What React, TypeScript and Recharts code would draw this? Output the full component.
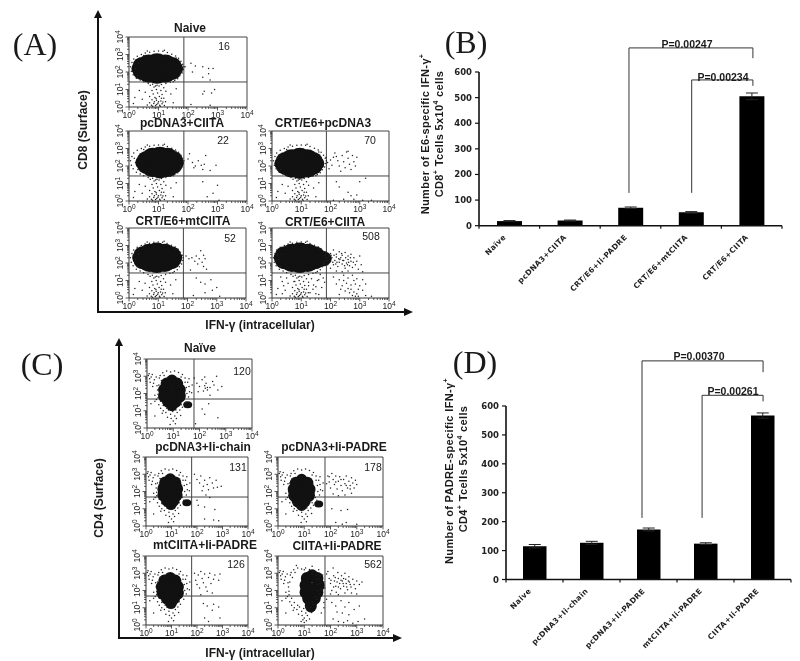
import React from "react";
import { ScatterChart, Scatter, BarChart, Bar, ErrorBar, XAxis, YAxis, ReferenceLine } from "recharts";

type P = number[];
const SERIF = "'Liberation Serif', serif";
const SANS = "'Liberation Sans', sans-serif";
const DEJA = "'DejaVu Sans', sans-serif";

// flow-cytometry axes (log10 decades)
const decadeTicks = [0,0.3,0.48,0.6,0.7,0.78,0.85,0.9,0.95,1,1.3,1.48,1.6,1.7,1.78,1.85,1.9,1.95,2,2.3,2.48,2.6,2.7,2.78,2.85,2.9,2.95,3,3.3,3.48,3.6,3.7,3.78,3.85,3.9,3.95,4];

// Panel A: grainy rim of the main population and the low CD8 column
const aRim: P[] = [[0.05,2.3],[0.08,2.05],[0.1,2.55],[0.14,1.85],[0.16,2.75],[0.22,2.2],[0.25,1.65],[0.28,2.9],[0.33,2.5],[0.38,1.55],[0.42,3.0],[0.5,1.45],[0.55,3.08],[0.65,1.35],[0.7,3.13],[0.8,1.3],[0.85,3.18],[0.95,1.25],[1.0,3.2],[1.1,1.28],[1.15,3.18],[1.25,1.35],[1.3,3.12],[1.4,1.42],[1.45,3.02],[1.55,1.52],[1.58,2.92],[1.65,1.62],[1.68,2.78],[1.72,1.78],[1.76,2.62],[1.8,1.95],[1.82,2.45],[1.84,2.15],[1.86,2.3],[0.18,2.45],[0.3,1.8],[0.5,2.95],[1.6,2.8],[1.75,2.0],[0.62,3.2],[1.2,3.25],[0.9,1.2],[1.5,1.45]];
const aColumn: P[] = [[0.72,1.25],[0.85,1.15],[1.02,1.2],[1.18,1.1],[0.78,0.95],[0.93,1.0],[1.08,0.95],[1.25,0.9],[0.82,0.75],[0.97,0.8],[1.12,0.72],[0.7,0.6],[0.88,0.55],[1.03,0.6],[1.18,0.5],[0.78,0.42],[0.93,0.38],[1.08,0.35],[1.24,0.3],[0.7,0.25],[0.84,0.2],[0.98,0.22],[1.12,0.18],[0.76,0.1],[0.9,0.08],[1.04,0.1],[1.2,0.08],[0.62,0.12],[0.35,0.95],[0.2,0.55],[0.45,0.45],[0.15,0.2],[0.55,0.85],[1.42,0.75],[1.5,0.25],[1.6,1.05],[0.86,0.3],[0.94,0.14],[1.0,0.3],[1.06,0.04],[0.8,0.04],[1.15,0.28],[0.92,0.48],[1.1,0.5]];
const aNaiveCore: P[] = [[0.42,2.2],[0.47,2.4],[0.47,2.0],[0.67,2.55],[0.67,1.85],[0.95,2.62],[0.95,1.78],[1.23,2.55],[1.23,1.85],[1.43,2.4],[1.43,2.0],[1.5,2.2],[0.95,2.2]];
const aNaiveDots: P[] = [[1.9,2.3],[2.1,2.5],[2.25,2.35],[2.5,2.3],[2.7,2.2],[2.85,2.2],[2.7,1.9],[2.75,1.55],[2.5,1.7],[2.15,2.0],[2.55,0.9],[2.8,0.8],[2.5,0.75],[2.9,1.0],[2.75,0.1],[2.1,0.15]];
const aPcCore: P[] = [[0.55,2.2],[0.62,2.4],[0.62,2.0],[0.8,2.58],[0.8,1.83],[1.05,2.65],[1.05,1.75],[1.3,2.58],[1.3,1.83],[1.47,2.4],[1.47,2.0],[1.52,2.2],[1.05,2.2]];
const aPcDots: P[] = [[2.0,2.4],[2.15,2.2],[2.25,2.0],[2.35,2.3],[2.45,2.05],[2.5,1.8],[2.55,2.1],[2.75,1.75],[2.95,2.05],[2.05,2.7],[2.6,2.6],[2.2,1.9],[2.5,1.1],[3.0,0.9],[2.85,0.45],[2.65,0.25],[3.05,0.05]];
const aCrtPcCore: P[] = [[0.42,2.15],[0.48,2.35],[0.48,1.95],[0.68,2.5],[0.68,1.8],[0.95,2.58],[0.95,1.72],[1.2,2.5],[1.2,1.8],[1.38,2.35],[1.38,1.95],[1.45,2.15],[0.95,2.15]];
const aCrtPcDots: P[] = [[1.85,2.5],[1.9,2.2],[1.95,1.85],[2.05,2.05],[2.1,2.5],[2.15,2.75],[2.25,2.3],[2.3,2.0],[2.35,1.7],[2.4,2.6],[2.45,2.25],[2.55,2.8],[2.6,2.45],[2.65,2.1],[2.7,1.8],[2.75,2.6],[2.8,2.25],[2.85,2.0],[2.9,2.5],[2.5,1.9],[2.2,2.55],[2.0,2.35],[2.6,2.85],[2.2,1.1],[2.3,0.8],[2.6,0.5],[2.7,0.3],[2.9,0.35],[3.0,1.1],[3.2,1.3],[2.45,0.1],[2.8,0.1],[3.1,0.05],[3.4,0.05],[2.1,0.05]];
const aMtCore: P[] = [[0.45,2.3],[0.5,2.5],[0.5,2.1],[0.7,2.65],[0.7,1.95],[0.95,2.72],[0.95,1.88],[1.22,2.65],[1.22,1.95],[1.42,2.5],[1.42,2.1],[1.48,2.3],[0.95,2.3]];
const aMtDots: P[] = [[1.95,2.4],[2.05,2.25],[2.15,2.3],[2.25,2.1],[2.3,2.4],[2.4,2.25],[2.45,2.7],[2.5,2.05],[2.55,2.45],[2.55,1.8],[2.6,2.25],[2.65,1.65],[2.35,1.95],[2.1,1.6],[2.3,1.15],[2.45,0.9],[2.6,0.8],[2.8,1.05],[3.0,0.6],[2.85,0.45],[2.6,0.3],[2.2,0.15],[3.1,0.1]];
const aCiCore: P[] = [[0.4,2.3],[0.45,2.5],[0.45,2.1],[0.68,2.65],[0.68,1.95],[0.95,2.72],[0.95,1.88],[1.22,2.65],[1.22,1.95],[1.45,2.5],[1.45,2.1],[1.55,2.3],[0.95,2.3],[1.7,2.25]];
const aCiDots: P[] = [[1.85,2.6],[2.0,2.55],[2.1,2.75],[2.2,2.5],[2.3,2.65],[2.4,2.45],[2.5,2.6],[2.6,2.4],[2.7,2.5],[2.8,2.3],[2.9,2.1],[3.0,2.4],[3.05,1.9],[2.0,2.1],[2.05,2.3],[2.1,1.9],[2.15,2.15],[2.2,2.35],[2.25,1.8],[2.3,2.05],[2.35,2.3],[2.4,1.95],[2.45,2.15],[2.5,1.7],[2.55,2.0],[2.6,2.2],[2.65,1.85],[2.7,2.1],[2.75,1.75],[2.85,1.9],[2.95,1.65],[2.0,1.7],[2.2,1.55],[2.4,1.5],[2.6,1.55],[3.1,1.5],[1.9,1.9],[1.95,2.4],[2.12,2.45],[2.32,2.2],[2.52,2.3],[2.22,2.05],[2.42,2.15],[2.62,2.05],[1.92,2.15],[2.02,2.45],[2.08,2.05],[2.18,1.95],[2.28,2.25],[2.38,2.55],[2.48,1.85],[2.58,1.9],[2.68,2.3],[2.78,2.05],[0.5,1.15],[0.3,1.2],[0.75,0.95],[1.35,1.1],[1.55,1.0],[1.75,1.15],[0.4,0.7],[1.25,0.7],[1.5,0.65],[1.7,0.6],[0.35,0.25],[1.3,0.3],[1.6,0.2],[1.65,1.35],[1.8,0.9],[1.4,0.5],[2.1,1.2],[2.3,1.05],[2.45,1.3],[2.6,1.15],[2.75,1.3],[2.9,1.1],[3.1,1.05],[3.2,0.8],[2.2,0.8],[2.4,0.7],[2.55,0.85],[2.7,0.75],[2.85,0.8],[3.0,0.7],[3.1,0.45],[2.5,0.4],[2.65,0.3],[2.75,0.15],[2.8,0.35],[2.85,0.1],[2.9,0.25],[2.95,0.1],[2.3,0.2],[3.2,0.15],[3.4,0.1],[2.6,0.55],[2.95,0.5],[2.45,1.0],[2.8,1.0],[2.35,0.5],[2.7,0.5]];

// Panel C: grainy surroundings of the main population
const cRim: P[] = [[0.05,3.05],[0.1,2.85],[0.2,3.1],[0.12,2.65],[0.25,2.6],[0.35,2.95],[0.45,2.5],[0.5,3.05],[0.4,2.2],[0.55,2.75],[0.3,1.9],[0.42,1.75],[0.3,1.55],[0.45,1.35],[0.52,1.15],[0.62,1.0],[0.72,0.9],[0.82,1.05],[0.9,0.8],[0.98,0.95],[1.06,0.7],[1.15,0.9],[1.25,1.05],[1.35,1.2],[0.92,0.55],[1.0,0.4],[1.08,0.25],[0.88,0.2],[0.6,3.2],[0.75,3.3],[0.9,3.25],[1.05,3.3],[1.2,3.22],[1.35,3.1],[1.45,2.9],[1.55,2.65],[1.6,2.4],[1.62,2.1],[1.58,1.8],[1.48,1.5],[0.47,2.9],[0.38,2.45],[0.42,1.95],[0.52,1.55],[0.62,1.3],[0.75,1.15],[1.1,1.05],[1.3,1.35],[1.42,1.65],[1.52,2.0],[1.5,2.35],[1.45,2.65],[1.3,2.95],[0.65,3.05],[0.3,0.7],[0.15,1.4],[0.08,3.15],[0.16,2.95],[0.28,2.8],[0.22,2.4],[0.36,1.65],[0.58,0.85],[0.78,0.62],[1.12,0.55],[1.28,0.72],[1.6,2.85],[1.72,2.5],[1.7,2.05]];
const cNaiveCore: P[] = [[0.95,2.72],[0.75,2.55],[1.15,2.55],[0.65,2.2],[1.25,2.2],[0.65,1.85],[1.25,1.85],[0.8,1.55],[1.1,1.55],[0.95,1.35],[0.95,2.0]];
const cNaiveLump: P[] = [[1.55,1.35]];
const cNaiveDots: P[] = [[1.8,2.9],[1.9,2.6],[2.0,2.4],[2.1,2.8],[2.15,2.15],[2.2,2.45],[2.25,2.6],[2.3,2.2],[2.4,2.35],[2.5,2.7],[2.55,2.5],[2.65,3.0],[2.7,2.2],[2.85,2.4],[2.2,2.95],[1.95,2.1],[2.4,1.9],[2.35,1.4],[2.1,1.1],[2.2,0.8],[2.7,0.6],[1.85,0.25],[2.3,2.35],[2.22,2.3]];
const cChainCore: P[] = [[0.95,2.68],[0.75,2.5],[1.15,2.5],[0.68,2.15],[1.22,2.15],[0.68,1.8],[1.2,1.8],[0.82,1.5],[1.08,1.5],[0.98,1.3],[0.95,2.0]];
const cChainLump: P[] = [[1.6,1.35]];
const cChainDots: P[] = [[1.9,3.0],[2.0,2.7],[2.1,2.5],[2.15,2.9],[2.25,2.3],[2.3,2.65],[2.4,2.4],[2.45,2.1],[2.5,2.8],[2.6,2.5],[2.65,2.2],[2.75,2.65],[2.8,2.25],[2.95,2.3],[2.2,2.05],[2.35,1.8],[2.5,1.65],[2.0,1.5],[2.05,1.2],[2.3,1.1],[2.7,0.95],[2.3,0.4],[2.65,0.35],[2.85,0.3]];
const cPadCore: P[] = [[0.9,2.65],[0.68,2.48],[1.12,2.48],[0.6,2.12],[1.2,2.12],[0.62,1.78],[1.18,1.78],[0.75,1.45],[1.02,1.45],[0.9,1.25],[0.9,2.0]];
const cPadLump: P[] = [[1.55,1.28]];
const cPadDots: P[] = [[1.9,2.9],[1.95,2.55],[2.0,2.2],[2.05,3.05],[2.1,2.7],[2.15,2.4],[2.2,2.9],[2.25,2.15],[2.3,2.6],[2.35,2.85],[2.4,2.35],[2.45,2.05],[2.5,2.7],[2.55,2.45],[2.6,2.9],[2.65,2.2],[2.7,2.6],[2.75,2.35],[2.8,2.8],[2.85,2.5],[2.9,2.2],[2.95,2.65],[3.0,2.4],[2.1,1.85],[2.3,1.75],[2.55,1.8],[2.8,1.9],[2.05,1.0],[2.4,0.9],[2.65,0.95],[2.2,0.2],[2.45,0.1],[2.6,0.2],[3.0,0.1],[1.85,2.45],[1.95,2.85],[2.2,2.55],[2.4,2.7],[2.6,2.35],[2.75,2.15]];
const cMtCore: P[] = [[0.95,2.7],[0.72,2.55],[1.15,2.55],[0.62,2.2],[1.25,2.2],[0.65,1.85],[1.25,1.85],[0.82,1.55],[1.1,1.55],[0.98,1.3],[0.95,2.0]];
const cMtDots: P[] = [[1.9,3.0],[1.95,2.6],[2.0,2.35],[2.05,2.9],[2.1,2.15],[2.15,3.1],[2.2,2.7],[2.25,2.45],[2.3,2.95],[2.35,2.2],[2.45,2.75],[2.5,3.0],[2.55,2.4],[2.65,2.65],[2.7,2.9],[2.85,2.6],[2.9,2.95],[2.4,1.95],[2.15,1.75],[2.6,1.85],[2.25,1.25],[2.4,1.1],[2.65,1.2],[2.85,1.05],[2.6,0.85],[2.3,0.4],[2.9,0.4],[2.45,0.2]];
const cCiCore: P[] = [[1.3,2.85],[1.1,2.7],[1.5,2.7],[1.05,2.3],[1.55,2.3],[1.05,1.9],[1.5,1.9],[1.15,1.55],[1.4,1.55],[1.25,1.3],[1.3,2.1],[1.25,1.1]];
const cCiDots: P[] = [[0.7,3.45],[1.0,3.2],[1.3,3.4],[1.55,3.2],[1.7,2.9],[1.75,2.5],[1.78,2.15],[1.9,3.1],[1.95,2.7],[2.0,2.4],[2.05,2.0],[2.1,3.3],[2.12,2.85],[2.15,2.55],[2.2,2.25],[2.22,1.9],[2.28,3.05],[2.3,2.7],[2.35,2.4],[2.38,2.1],[2.42,2.85],[2.45,2.55],[2.5,2.25],[2.55,3.0],[2.58,2.65],[2.6,2.4],[2.65,2.05],[2.7,2.8],[2.72,2.5],[2.78,2.2],[2.85,2.65],[2.9,2.35],[2.95,2.1],[3.0,2.55],[3.1,2.35],[3.2,2.5],[2.0,1.8],[2.3,1.75],[2.55,1.85],[2.8,1.85],[3.0,1.8],[2.05,1.3],[2.2,1.1],[2.4,1.4],[2.55,1.05],[2.7,1.3],[2.9,0.9],[3.1,1.1],[2.25,0.75],[2.45,0.7],[2.7,0.6],[2.1,0.35],[2.3,0.2],[2.5,0.15],[2.65,0.25],[2.85,0.1],[3.05,0.2],[3.3,0.35],[1.85,2.95],[2.02,2.6],[2.18,2.75],[2.25,2.5],[2.4,2.6],[2.5,2.7],[2.62,2.2],[2.75,2.35],[2.3,2.2],[2.48,2.4],[2.68,2.55],[2.12,2.2],[1.85,1.5],[1.75,1.3],[1.75,1.0],[1.65,0.7],[1.0,0.15],[1.2,0.35],[0.95,0.3]];

const panelNames = ["Naive","pcDNA3+CIITA","CRT/E6+pcDNA3","CRT/E6+mtCIITA","CRT/E6+CIITA"];
const panelCounts = ["16","22","70","52","508"];
const cNames = ["Naïve","pcDNA3+Ii-chain","pcDNA3+Ii-PADRE","mtCIITA+Ii-PADRE","CIITA+Ii-PADRE"];
const cCounts = ["120","131","178","126","562"];

// Panel B
const bCats = ["Naïve","pcDNA3+CIITA","CRT/E6+Ii-PADRE","CRT/E6+mtCIITA","CRT/E6+CIITA"];
const bVals = [18,20,70,52,505];
const bErrs = [2,2,3,3,13];
// Panel D
const dCats = ["Naive","pcDNA3+Ii-chain","pcDNA3+Ii-PADRE","mtCIITA+Ii-PADRE","CIITA+Ii-PADRE"];
const dVals = [115,127,173,124,567];
const dErrs = [6,5,5,3,9];
const barTicks = [0,100,200,300,400,500,600];
const barSlots = [0.5,1.5,2.5,3.5,4.5];

// bracket: [x from, x to, top, left foot, right foot]
const bBrackets = [[2.475,4.52,694,128,654],[3.51,4.52,569,128,546]];
const dBrackets = [[2.386,4.51,756,213,717],[3.44,4.51,637,213,616]];

const XTick = (props: any) => {
  const { x, y, payload } = props;
  const v = payload.value as number;
  const major = Number.isInteger(v);
  return (
    <g>
      <line x1={x} x2={x} y1={y} y2={y + (major ? 3.5 : 2)} stroke="#333" strokeWidth={0.8} />
      {major && (
        <text x={x} y={y + 11} textAnchor="middle" fontSize={8.5} fontFamily={SANS} fill="#222">
          10<tspan dy={-3.5} fontSize={6.5}>{v}</tspan>
        </text>
      )}
    </g>
  );
};

const YTick = (props: any) => {
  const { x, y, payload } = props;
  const v = payload.value as number;
  const major = Number.isInteger(v);
  return (
    <g>
      <line x1={x} x2={x - (major ? 3.5 : 2)} y1={y} y2={y} stroke="#333" strokeWidth={0.8} />
      {major && (
        <text transform={`translate(${x - 6},${y}) rotate(-90)`} textAnchor="middle" fontSize={8.5} fontFamily={SANS} fill="#222">
          10<tspan dy={-3.5} fontSize={6.5}>{v}</tspan>
        </text>
      )}
    </g>
  );
};

const PLOT_L = 24;
const PLOT_T = 14;
const noPoints: P[] = [];

const FlowPanel = ({ x, y, w, h, qx, qy, core, dots, rx, ry, lump = noPoints }: any) => {
  const toRows = (a: P[]) => a.map(([px, py]) => ({ px, py }));
  return (
    <div style={{ position: "absolute", left: x - PLOT_L, top: y - PLOT_T }}>
      <ScatterChart width={w + PLOT_L + 12} height={h + PLOT_T + 16} margin={{ left: 0, top: PLOT_T, right: 12, bottom: 0 }}>
        <XAxis dataKey="px" type="number" domain={[0, 4]} ticks={decadeTicks} interval={0} height={16} tick={<XTick />} tickLine={false} tickSize={0} tickMargin={0} axisLine={{ stroke: "#333" }} />
        <YAxis dataKey="py" type="number" domain={[0, 4]} ticks={decadeTicks} interval={0} width={PLOT_L} tick={<YTick />} tickLine={false} tickSize={0} tickMargin={0} axisLine={{ stroke: "#333" }} />
        <ReferenceLine x={qx} stroke="#444" />
        <ReferenceLine y={qy} stroke="#444" />
        <ReferenceLine x={4} stroke="#444" />
        <ReferenceLine y={4} stroke="#444" />
        <Scatter data={toRows(core)} isAnimationActive={false} shape={(p: any) => <ellipse cx={p.cx} cy={p.cy} rx={rx} ry={ry} fill="#111" />} />
        <Scatter data={toRows(lump)} isAnimationActive={false} shape={(p: any) => <ellipse cx={p.cx} cy={p.cy} rx={4.5} ry={3.5} fill="#111" />} />
        <Scatter data={toRows(dots)} isAnimationActive={false} shape={(p: any) => <circle cx={p.cx} cy={p.cy} r={0.75} fill="#222" />} />
      </ScatterChart>
    </div>
  );
};

const barTick = (band: number, last: number) => (props: any) => {
  const { x, y, payload, index } = props;
  return (
    <g>
      <line x1={x - band / 2} x2={x - band / 2} y1={y} y2={y + 3} stroke="#111" strokeWidth={1.2} />
      {index === last && <line x1={x + band / 2} x2={x + band / 2} y1={y} y2={y + 3} stroke="#111" strokeWidth={1.2} />}
      <text transform={`translate(${x - 3},${y + 12}) rotate(-45)`} textAnchor="end" fontSize={7.5} fontWeight={700} letterSpacing={0.35} fontFamily={DEJA} fill="#222">{payload.value}</text>
    </g>
  );
};

const BarPanel = ({ left, top, marginTop, plotH, plotW, cats, vals, errs, brackets, band, barSize, yW }: any) => {
  const rows = cats.map((c: string, i: number) => ({ c, v: vals[i], e: errs[i], slot: barSlots[i] }));
  const XT = barTick(band, cats.length - 1);
  return (
    <div style={{ position: "absolute", left, top }}>
      <BarChart width={yW + plotW + 8} height={marginTop + plotH + 96} data={rows} margin={{ left: 0, right: 8, top: marginTop, bottom: 0 }}>
        <XAxis dataKey="c" interval={0} height={96} tick={<XT />} tickLine={false} tickSize={0} tickMargin={0} axisLine={{ stroke: "#111", strokeWidth: 1.6 }} />
        <XAxis xAxisId="n" dataKey="slot" type="number" domain={[0, 5]} allowDataOverflow hide />
        <YAxis domain={[0, 600]} ticks={barTicks} interval={0} width={yW} tick={{ fontSize: 8.5, fontWeight: 700, fontFamily: DEJA, fill: "#222" }} tickSize={4} tickMargin={3} axisLine={{ stroke: "#111", strokeWidth: 1.6 }} tickLine={{ stroke: "#111", strokeWidth: 1.2 }} />
        <Bar dataKey="v" fill="#000" barSize={barSize} isAnimationActive={false}>
          <ErrorBar dataKey="e" width={6} stroke="#222" strokeWidth={1} direction="y" isAnimationActive={false} />
        </Bar>
        {brackets.map((b: number[], i: number) => (
          <React.Fragment key={i}>
            <ReferenceLine xAxisId="n" ifOverflow="visible" stroke="#333" segment={[{ x: b[0], y: b[2] }, { x: b[1], y: b[2] }]} />
            <ReferenceLine xAxisId="n" ifOverflow="visible" stroke="#333" segment={[{ x: b[0], y: b[2] }, { x: b[0], y: b[3] }]} />
            <ReferenceLine xAxisId="n" ifOverflow="visible" stroke="#333" segment={[{ x: b[1], y: b[2] }, { x: b[1], y: b[4] }]} />
          </React.Fragment>
        ))}
      </BarChart>
    </div>
  );
};

const T = ({ x, y, children, size = 12, weight = 700, anchor = "middle", family = SANS, rot = 0, spacing = 0 }: any) => (
  <text transform={`translate(${x},${y}) rotate(${rot})`} textAnchor={anchor} dominantBaseline="central" fontSize={size} fontWeight={weight} fontFamily={family} letterSpacing={spacing} fill="#1a1a1a">{children}</text>
);
const Sup = ({ children }: any) => <tspan dy={-4} fontSize={7}>{children}</tspan>;
const Down = ({ children }: any) => <tspan dy={4}>{children}</tspan>;

const Arrows = ({ x, top, y, right }: any) => (
  <g stroke="#111" fill="#111">
    <line x1={x} x2={x} y1={top + 6} y2={y} strokeWidth={2} />
    <line x1={x - 1} x2={right - 6} y1={y} y2={y} strokeWidth={2} />
    <path d={`M${x - 4},${top + 8} L${x},${top} L${x + 4},${top + 8} Z`} stroke="none" />
    <path d={`M${right - 9},${y - 4} L${right},${y} L${right - 9},${y + 4} Z`} stroke="none" />
  </g>
);

export default function App() {
  return (
    <div style={{ position: "absolute", left: 0, top: 0, width: 800, height: 661, background: "#fff", overflow: "hidden", filter: "blur(0.35px)" }}>
      <FlowPanel x={129} y={37} w={118} h={70} qx={1.86} qy={1.43} core={aNaiveCore} dots={[...aRim, ...aColumn, ...aNaiveDots]} rx={10} ry={8} />
      <FlowPanel x={129} y={131} w={118} h={70} qx={1.86} qy={1.43} core={aPcCore} dots={[...aRim, ...aColumn, ...aPcDots]} rx={10} ry={8} />
      <FlowPanel x={272} y={131} w={117} h={70} qx={1.86} qy={1.43} core={aCrtPcCore} dots={[...aRim, ...aColumn, ...aCrtPcDots]} rx={10} ry={8} />
      <FlowPanel x={129} y={228} w={117} h={70} qx={1.86} qy={1.43} core={aMtCore} dots={[...aRim, ...aColumn, ...aMtDots]} rx={10} ry={8} />
      <FlowPanel x={272} y={228} w={117} h={70} qx={1.86} qy={1.43} core={aCiCore} dots={[...aRim, ...aColumn, ...aCiDots]} rx={10} ry={8} />

      <FlowPanel x={147} y={359} w={105} h={69} qx={1.79} qy={1.68} core={cNaiveCore} lump={cNaiveLump} dots={[...cRim, ...cNaiveDots]} rx={6} ry={6.5} />
      <FlowPanel x={146} y={457} w={102} h={69} qx={1.79} qy={1.68} core={cChainCore} lump={cChainLump} dots={[...cRim, ...cChainDots]} rx={6} ry={6.5} />
      <FlowPanel x={278} y={457} w={105} h={69} qx={1.79} qy={1.68} core={cPadCore} lump={cPadLump} dots={[...cRim, ...cPadDots]} rx={6} ry={6.5} />
      <FlowPanel x={146} y={556} w={102} h={69} qx={1.79} qy={1.68} core={cMtCore} dots={[...cRim, ...cMtDots]} rx={6} ry={6.5} />
      <FlowPanel x={278} y={556} w={105} h={69} qx={1.79} qy={1.68} core={cCiCore} dots={[...cRim, ...cCiDots]} rx={6} ry={6.5} />

      <BarPanel left={430} top={20} marginTop={52} plotH={153.7} plotW={303} yW={49} band={60.6} barSize={25} cats={bCats} vals={bVals} errs={bErrs} brackets={bBrackets} />
      <BarPanel left={457} top={340} marginTop={66} plotH={173.5} plotW={285} yW={49} band={57} barSize={23.5} cats={dCats} vals={dVals} errs={dErrs} brackets={dBrackets} />

      <svg width={800} height={661} style={{ position: "absolute", left: 0, top: 0, pointerEvents: "none" }}>
        <Arrows x={98} top={10} y={312} right={413} />
        <Arrows x={119} top={338} y={638} right={402} />

        <T x={35} y={44} size={32} weight={400} family={SERIF}>(A)</T>
        <T x={466} y={42} size={32} weight={400} family={SERIF}>(B)</T>
        <T x={42} y={364} size={32} weight={400} family={SERIF}>(C)</T>
        <T x={475} y={362} size={32} weight={400} family={SERIF}>(D)</T>

        <T x={83} y={130} rot={-90}>CD8 (Surface)</T>
        <T x={260} y={325}>IFN-γ (intracellular)</T>
        <T x={99} y={498} rot={-90}>CD4 (Surface)</T>
        <T x={260} y={653}>IFN-γ (intracellular)</T>

        <T x={190} y={28}>{panelNames[0]}</T>
        <T x={182} y={123}>{panelNames[1]}</T>
        <T x={323} y={123}>{panelNames[2]}</T>
        <T x={183} y={221}>{panelNames[3]}</T>
        <T x={325} y={222}>{panelNames[4]}</T>
        <T x={224} y={46} size={10.5} weight={400}>{panelCounts[0]}</T>
        <T x={223} y={140} size={10.5} weight={400}>{panelCounts[1]}</T>
        <T x={370} y={140} size={10.5} weight={400}>{panelCounts[2]}</T>
        <T x={230} y={238} size={10.5} weight={400}>{panelCounts[3]}</T>
        <T x={371} y={236} size={10.5} weight={400}>{panelCounts[4]}</T>

        <T x={200} y={348}>{cNames[0]}</T>
        <T x={203} y={447}>{cNames[1]}</T>
        <T x={334} y={447}>{cNames[2]}</T>
        <T x={205} y={545}>{cNames[3]}</T>
        <T x={337} y={546}>{cNames[4]}</T>
        <T x={242} y={371} size={10.5} weight={400}>{cCounts[0]}</T>
        <T x={238} y={467} size={10.5} weight={400}>{cCounts[1]}</T>
        <T x={373} y={467} size={10.5} weight={400}>{cCounts[2]}</T>
        <T x={236} y={564} size={10.5} weight={400}>{cCounts[3]}</T>
        <T x={373} y={564} size={10.5} weight={400}>{cCounts[4]}</T>

        <T x={687} y={44} size={10.5}>P=0.00247</T>
        <T x={723} y={77} size={10.5}>P=0.00234</T>
        <T x={699} y={356} size={10.5}>P=0.00370</T>
        <T x={733} y={391} size={10.5}>P=0.00261</T>

        <T x={425} y={134} rot={-90} size={11} spacing={0.35}>Number of E6-specific IFN-γ<Sup>+</Sup></T>
        <T x={439} y={134} rot={-90} size={11} spacing={0.35}>CD8<Sup>+</Sup><Down> Tcells 5x10</Down><Sup>4</Sup><Down> cells</Down></T>
        <T x={449} y={471} rot={-90} size={11} spacing={0.35}>Number of PADRE-specific IFN-γ<Sup>+</Sup></T>
        <T x={463} y={469} rot={-90} size={11} spacing={0.35}>CD4<Sup>+</Sup><Down> Tcells 5x10</Down><Sup>4</Sup><Down> cells</Down></T>
      </svg>
    </div>
  );
}
